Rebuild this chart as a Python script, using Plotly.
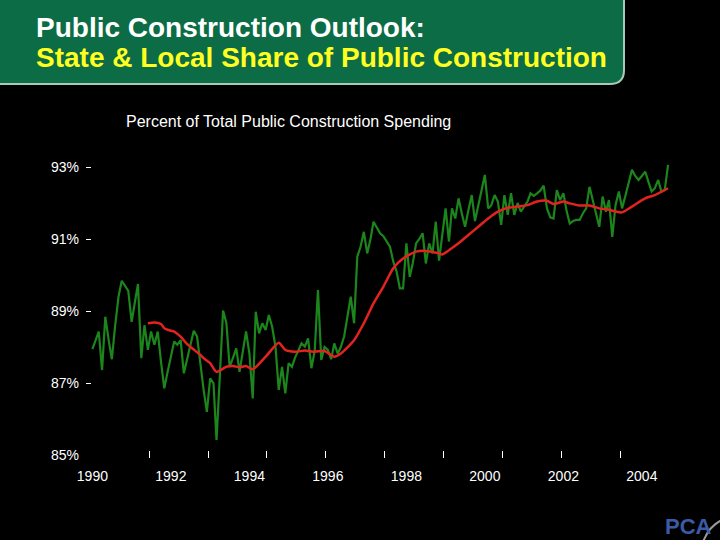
import plotly.graph_objects as go
import pandas as pd

# ---------------- data ----------------
# Monthly state & local share of public construction (%), Jan 1990 - Sep 2004
green_vals = [
    87.94, 88.20, 88.43, 87.36, 88.84, 88.20, 87.66, 88.60, 89.40, 89.84, 89.70, 89.56,   # 1990
    88.70, 89.20, 89.75, 87.69, 88.61, 87.92, 88.43, 88.06, 88.43, 87.60, 86.85, 87.30,   # 1991
    87.70, 88.15, 88.06, 88.19, 87.27, 87.70, 88.10, 88.45, 88.29, 87.50, 86.81, 86.20,   # 1992
    87.13, 86.99, 85.42, 87.20, 89.01, 88.66, 87.45, 87.70, 87.96, 87.31, 87.90, 88.43,   # 1993
    87.82, 86.57, 88.98, 88.38, 88.66, 88.47, 88.89, 88.56, 88.00, 86.81, 87.45, 86.71,   # 1994
    87.55, 87.45, 87.70, 87.92, 88.10, 88.01, 88.24, 87.41, 87.90, 89.58, 87.64, 88.00,   # 1995
    87.92, 87.66, 88.10, 87.82, 88.00, 88.30, 88.90, 89.40, 88.66, 90.51, 90.79, 91.20,   # 1996
    90.60, 91.00, 91.48, 91.30, 91.16, 91.08, 90.95, 90.79, 90.37, 90.10, 89.63, 89.63,   # 1997
    90.88, 89.95, 90.32, 90.88, 91.00, 91.16, 90.32, 90.88, 90.60, 91.48, 90.40, 91.20,   # 1998
    91.85, 90.93, 91.85, 91.57, 92.13, 91.70, 91.34, 91.80, 92.22, 91.50, 91.90, 92.30,   # 1999
    92.78, 91.85, 91.94, 92.22, 92.04, 91.39, 92.22, 91.67, 92.27, 91.67, 92.00, 91.76,   # 2000
    91.90, 92.04, 92.27, 92.20, 92.27, 92.35, 92.48, 91.85, 91.60, 91.57, 92.36, 92.08,   # 2001
    92.27, 91.76, 91.43, 91.50, 91.53, 91.53, 91.71, 91.85, 92.45, 92.04, 91.70, 91.34,   # 2002
    92.18, 91.76, 92.08, 91.06, 91.94, 92.32, 91.85, 92.20, 92.60, 92.92, 92.75, 92.64,   # 2003
    92.75, 92.87, 92.60, 92.32, 92.41, 92.64, 92.32, 92.36, 93.06,                        # 2004
]
green_dates = pd.date_range("1990-01-01", periods=len(green_vals), freq="MS")

# Smoothed trend (red line)
red_dates = [
    "1991-06", "1991-08", "1991-10", "1991-11", "1992-01", "1992-02", "1992-04", "1992-06",
    "1992-08", "1992-10", "1992-11", "1993-01", "1993-03", "1993-06", "1993-08", "1993-10",
    "1993-12", "1994-02", "1994-06", "1994-10", "1994-12", "1995-03", "1995-06", "1995-09",
    "1995-12", "1996-03", "1996-05", "1996-09", "1996-12", "1997-03", "1997-06", "1997-09",
    "1997-12", "1998-04", "1998-07", "1998-11", "1998-12", "1999-02", "1999-05", "1999-08",
    "1999-11", "2000-02", "2000-05", "2000-08", "2000-11", "2001-02", "2001-05", "2001-08",
    "2001-10", "2002-01", "2002-03", "2002-06", "2002-09", "2002-12", "2003-03", "2003-07",
    "2003-10", "2004-02", "2004-05", "2004-09",
]
red_vals = [
    88.66, 88.68, 88.64, 88.52, 88.45, 88.43, 88.29, 88.08,
    87.93, 87.78, 87.69, 87.55, 87.31, 87.45, 87.47, 87.44,
    87.47, 87.38, 87.73, 88.12, 87.92, 87.87, 87.90, 87.87,
    87.89, 87.73, 87.82, 88.19, 88.66, 89.21, 89.68, 90.19,
    90.46, 90.65, 90.67, 90.60, 90.57, 90.69, 90.88, 91.11,
    91.34, 91.57, 91.76, 91.87, 91.90, 91.94, 92.04, 92.06,
    91.97, 92.04, 91.99, 91.93, 91.93, 91.85, 91.81, 91.74,
    91.90, 92.13, 92.22, 92.41,
]

x_label_years = [1990, 1992, 1994, 1996, 1998, 2000, 2002, 2004]
y_label_vals = [85, 87, 89, 91, 93]
y_label_text = ["85%", "87%", "89%", "91%", "93%"]
y_dash_vals = [87, 89, 91, 93]
x_tick_marks = ["1991-06-13", "1992-12-12", "1994-06-13", "1995-12-13", "1997-06-13",
                "1998-12-13", "2000-06-13", "2001-12-13", "2003-06-13"]

title1 = "Public Construction Outlook:"
title2 = "State &amp; Local Share of Public Construction"
subtitle = "Percent of Total Public Construction Spending"

# ---------------- layout geometry ----------------
W, H = 720, 540
L, R, T, B = 86, 40, 150, 82
PW, PH = W - L - R, H - T - B
PX_PER_YEAR = 39.25
PX_PER_PCT = 36.0
X_1990 = 92.4


def X(px):
    return (px - L) / PW


def Y(py):
    return (H - B - py) / PH


x0 = pd.Timestamp("1990-01-01") - pd.Timedelta(days=(X_1990 - L) / PX_PER_YEAR * 365.25)
x1 = pd.Timestamp("1990-01-01") + pd.Timedelta(days=(W - R - X_1990) / PX_PER_YEAR * 365.25)
y_lo = 85 - (H - B - 455) / PX_PER_PCT
y_hi = y_lo + PH / PX_PER_PCT

FONT = "Arial, Liberation Sans, sans-serif"

fig = go.Figure()
fig.add_trace(go.Scatter(x=green_dates, y=green_vals, mode="lines",
                         line=dict(color="#1c851c", width=2.2), hoverinfo="skip"))
fig.add_trace(go.Scatter(x=pd.to_datetime(red_dates), y=red_vals, mode="lines",
                         line=dict(color="#e3231f", width=2.5, shape="spline", smoothing=0.6),
                         hoverinfo="skip"))

banner_path = (
    f"M {X(-4)},{Y(-4)} L {X(624)},{Y(-4)} L {X(624)},{Y(70)} "
    f"Q {X(624)},{Y(84)} {X(610)},{Y(84)} L {X(-4)},{Y(84)} Z"
)
arc_path = f"M {X(703)},{Y(542)} Q {X(709)},{Y(526)} {X(722)},{Y(520)}"

fig.update_layout(
    width=W, height=H,
    paper_bgcolor="black", plot_bgcolor="black",
    margin=dict(l=L, r=R, t=T, b=B),
    showlegend=False,
    font=dict(family=FONT, color="white"),
    xaxis=dict(
        type="date", range=[x0, x1],
        tickmode="array",
        tickvals=[f"{y}-01-01" for y in x_label_years],
        ticktext=[str(y) for y in x_label_years],
        ticks="", showgrid=False, zeroline=False, showline=False,
        tickfont=dict(size=14, color="white", family=FONT),
        ticklabelstandoff=8,
        minor=dict(tickmode="array", tickvals=x_tick_marks, ticks="inside",
                   ticklen=7, tickwidth=1, tickcolor="white", showgrid=False),
    ),
    yaxis=dict(
        range=[y_lo, y_hi],
        tickmode="array", tickvals=y_label_vals, ticktext=y_label_text,
        ticks="", showgrid=False, zeroline=False, showline=False,
        tickfont=dict(size=14, color="white", family=FONT),
        ticklabelstandoff=6,
        minor=dict(tickmode="array", tickvals=y_dash_vals, ticks="inside",
                   ticklen=5, tickwidth=1, tickcolor="white", showgrid=False),
    ),
    shapes=[
        dict(type="path", xref="paper", yref="paper", path=banner_path,
             fillcolor="#0b6c45", line=dict(color="#a9c9b8", width=2), layer="below"),
        dict(type="path", xref="paper", yref="paper", path=arc_path,
             line=dict(color="#9a9a9a", width=2)),
    ],
    annotations=[
        dict(xref="paper", yref="paper", x=X(34), y=Y(27), xanchor="left", yanchor="middle",
             text=f"<b>{title1}</b>", showarrow=False,
             font=dict(size=28, color="white", family=FONT)),
        dict(xref="paper", yref="paper", x=X(34), y=Y(57), xanchor="left", yanchor="middle",
             text=f"<b>{title2}</b>", showarrow=False,
             font=dict(size=28, color="#ffff22", family=FONT)),
        dict(xref="paper", yref="paper", x=X(124), y=Y(121), xanchor="left", yanchor="middle",
             text=subtitle, showarrow=False,
             font=dict(size=16, color="white", family=FONT)),
        dict(xref="paper", yref="paper", x=X(688), y=Y(512), xanchor="center", yanchor="top",
             text="<b>PCA</b>", showarrow=False,
             font=dict(size=22, color="#3a5ca6",
                       family="Liberation Sans Narrow, Arial Narrow, Liberation Sans")),
    ],
)

fig.write_html(
    "out.html",
    config={"displayModeBar": False},
    post_script="document.body.style.margin='0';document.body.style.background='black';",
)
